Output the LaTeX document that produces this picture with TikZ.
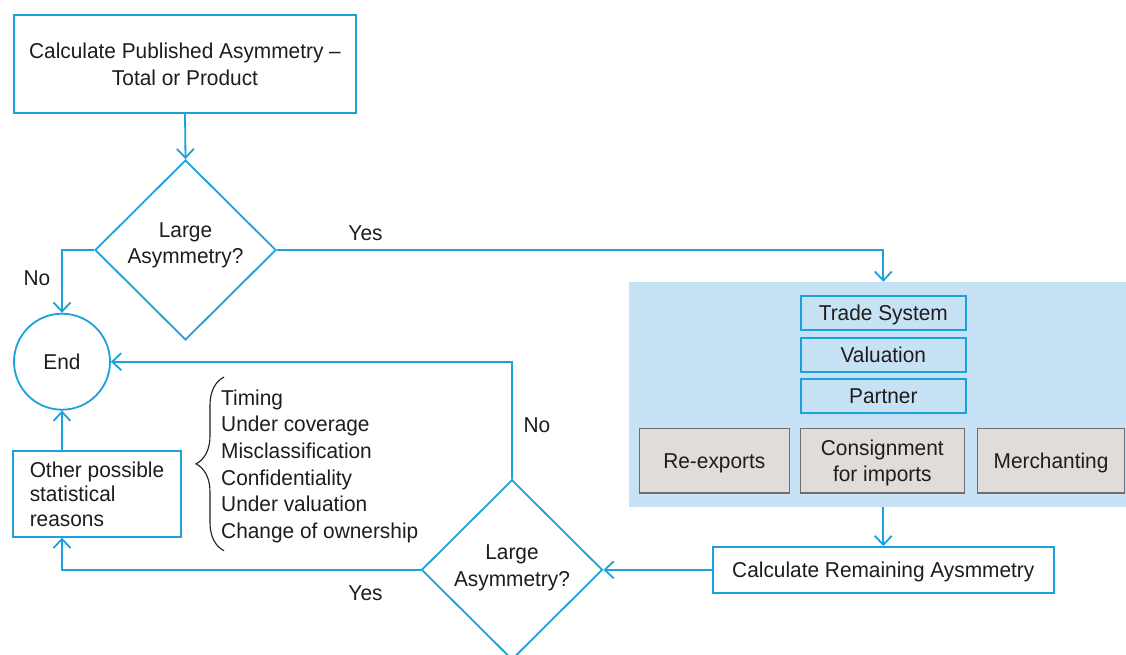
\documentclass[tikz,border=0pt]{standalone}
\usepackage{fontspec}
\setmainfont{Liberation Sans}[FakeStretch=0.97]
\usetikzlibrary{shapes.geometric,arrows.meta,decorations.pathreplacing}
\definecolor{lineblue}{HTML}{1CA1DB}
\definecolor{panelblue}{HTML}{C6E2F4}
\definecolor{boxgray}{HTML}{E0DCDA}
\definecolor{bordergray}{HTML}{726D6C}
\definecolor{txt}{HTML}{1F1C1D}
\begin{document}
\begin{tikzpicture}[x=1pt,y=-1pt,
  every node/.style={font=\fontsize{21.5pt}{26.6pt}\selectfont, text=txt},
  bluebox/.style={draw=lineblue, line width=2pt, rectangle, inner sep=0pt, align=center, text depth=0pt},
  graybox/.style={draw=bordergray, fill=boxgray, line width=1.6pt, rectangle, inner sep=0pt, align=center, minimum height=64.7pt, text depth=0pt},
  decision/.style={diamond, draw=lineblue, line width=1.8pt, inner sep=0pt, align=center, minimum width=181pt, minimum height=180pt, text depth=14pt},
  conn/.style={draw=lineblue, line width=1.8pt, -{Straight Barb[length=9pt,width=17pt]}},
  lbl/.style={anchor=base}]
\useasboundingbox (0,0) rectangle (1126,654);

% panel
\node[fill=panelblue, rectangle, minimum width=497pt, minimum height=224.7pt, inner sep=0pt] (panel) at (877.5,394.35) {};
\node[bluebox, minimum width=164.7pt, minimum height=34pt] (ts) at (883.3,313) {Trade System};
\node[bluebox, minimum width=164.7pt, minimum height=34pt] (val) at (883.3,354.5) {Valuation};
\node[bluebox, minimum width=164.7pt, minimum height=34pt] (part) at (883.3,396.2) {Partner};
\node[graybox, minimum width=150pt] (reex) at (714.3,460.7) {Re-exports};
\node[graybox, minimum width=164pt, font=\fontsize{21.5pt}{25.7pt}\selectfont] (cons) at (882.3,460.7) {Consignment\\for imports};
\node[graybox, minimum width=147pt] (merch) at (1051,460.7) {Merchanting};

% main nodes
\node[bluebox, minimum width=342pt, minimum height=97.5pt] (calc) at (185,64) {Calculate Published Asymmetry –\\Total or Product};
\node[decision] (dia1) at (185.5,250) {Large\\Asymmetry?};
\node[circle, draw=lineblue, line width=1.8pt, minimum size=96pt, inner sep=0pt, text depth=0pt] (end) at (62,361.7) {End};
\node[bluebox, minimum width=167.4pt, minimum height=86pt, align=left, font=\fontsize{21.5pt}{24.5pt}\selectfont] (other) at (97,493.7) {Other possible\\statistical\\reasons};
\node[bluebox, minimum width=341.3pt, minimum height=45.4pt] (rem) at (883.3,569.8) {Calculate Remaining Aysmmetry};
\node[decision, text depth=8pt] (dia2) at (512,569.8) {Large\\Asymmetry?};

% list with brace
\node[anchor=north west, align=left, inner sep=0pt] (list) at (221,389.5) {Timing\\Under coverage\\Misclassification\\Confidentiality\\Under valuation\\Change of ownership};
\draw[txt, line width=1.1pt, decorate, decoration={brace, amplitude=28pt}] (224,550.7) -- (224,377);

% connectors
\draw[conn] (calc.south) -- (dia1.north);
\draw[conn] (dia1.west) -| (end.north);
\draw[conn] (dia1.east) -| (ts.north |- panel.north);
\draw[conn] (panel.south -| rem.north) -- (rem.north);
\draw[conn] (rem.west) -- (dia2.east);
\draw[conn] (dia2.north) |- (end.east);
\draw[conn] (dia2.west) -| (other.south -| end.south);
\draw[conn] (other.north -| end.north) -- (end.south);

% labels
\node[lbl] (no1) at (37,285.5) {No};
\node[lbl] (yes1) at (365.5,240) {Yes};
\node[lbl] (no2) at (537,432) {No};
\node[lbl] (yes2) at (365.5,600) {Yes};
\end{tikzpicture}
\end{document}
